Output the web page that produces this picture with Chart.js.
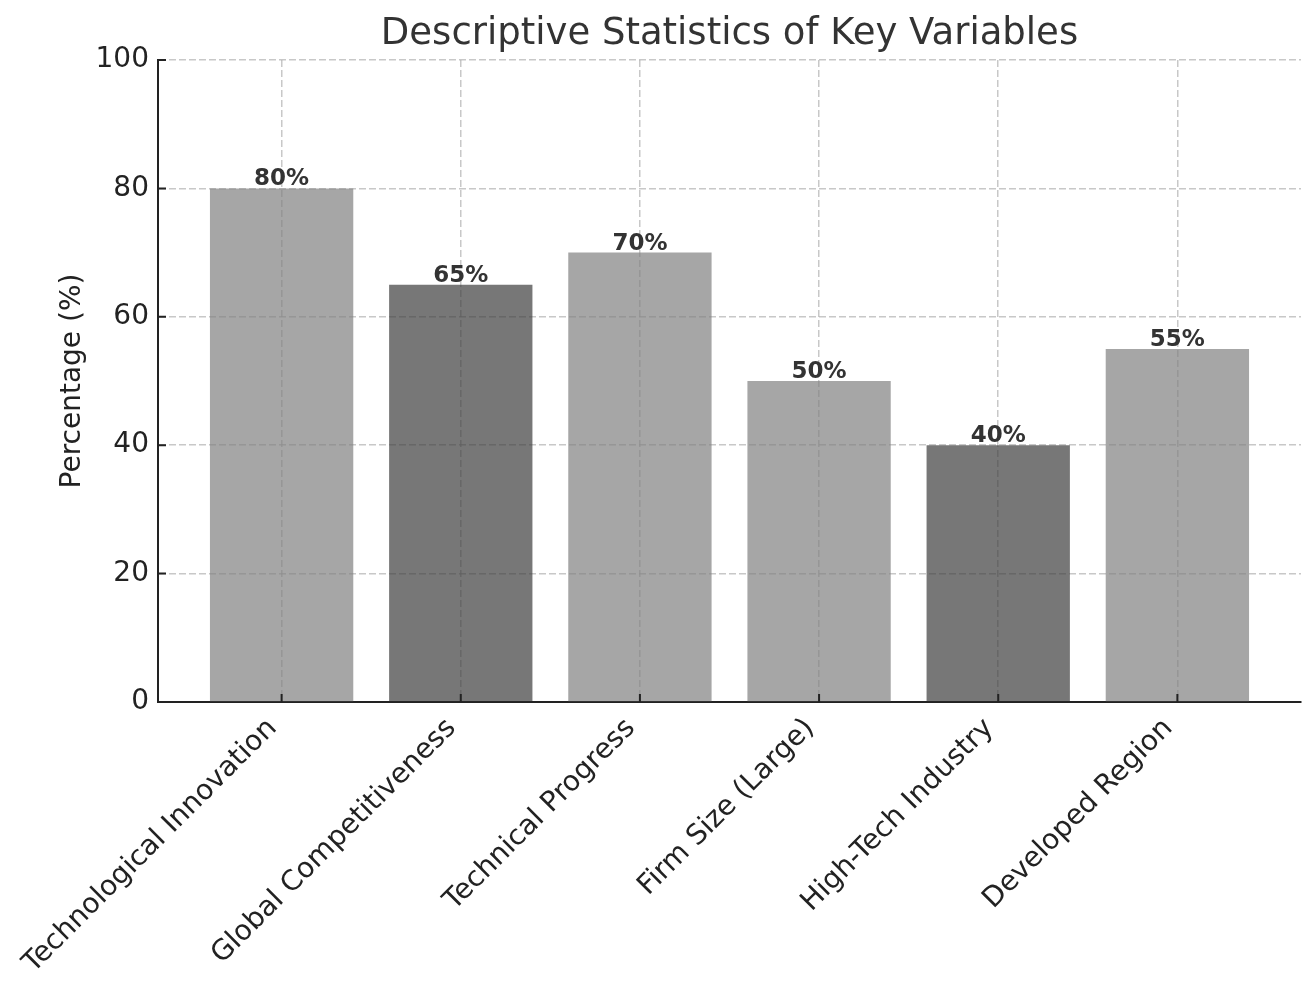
<!DOCTYPE html>
<html>
<head>
<meta charset="utf-8">
<script src="https://cdn.jsdelivr.net/npm/chart.js@4.4.1/dist/chart.umd.min.js"></script>
<style>
  html, body { margin: 0; padding: 0; background: #fff; }
  #wrap { width: 1316px; height: 991px; position: relative; }
</style>
</head>
<body>
<div id="wrap"><canvas id="chart"></canvas></div>
<script>
const categories = ["Technological Innovation", "Global Competitiveness", "Technical Progress", "Firm Size (Large)", "High-Tech Industry", "Developed Region"];
const percentages = [80, 65, 70, 50, 40, 55];
const yTicks = [0, 20, 40, 60, 80, 100];
const chartTitle = "Descriptive Statistics of Key Variables";
const yTitle = "Percentage (%)";

const LIGHT = "rgba(128,128,128,0.7)";
const DARK = "rgba(61,61,61,0.7)";
const barColors = [LIGHT, DARK, LIGHT, LIGHT, DARK, LIGHT];
const AXIS = "#222";
const GRID = "rgba(176,176,176,0.7)";

Chart.defaults.font.family = "'DejaVu Sans', sans-serif";

// title centred over the plot area, like matplotlib
const titlePlugin = {
  id: "plotTitle",
  afterDraw(chart) {
    const { ctx, chartArea } = chart;
    ctx.save();
    ctx.font = "37px 'DejaVu Sans'";
    ctx.fillStyle = "#333";
    ctx.textAlign = "center";
    ctx.textBaseline = "alphabetic";
    ctx.fillText(chartTitle, (chartArea.left + chartArea.right) / 2, 44);
    ctx.restore();
  }
};

// value labels above bars
const valueLabels = {
  id: "valueLabels",
  afterDatasetsDraw(chart) {
    const { ctx } = chart;
    const meta = chart.getDatasetMeta(0);
    ctx.save();
    ctx.font = "bold 23px 'DejaVu Sans'";
    ctx.fillStyle = "#333";
    ctx.textAlign = "center";
    ctx.textBaseline = "alphabetic";
    meta.data.forEach((bar, i) => {
      ctx.fillText(percentages[i] + "%", bar.x, bar.y - 3);
    });
    ctx.restore();
  }
};

// inward tick marks
const innerTicks = {
  id: "innerTicks",
  afterDraw(chart) {
    const { ctx, chartArea, scales } = chart;
    ctx.save();
    ctx.strokeStyle = AXIS;
    ctx.lineWidth = 2;
    ctx.beginPath();
    scales.x.ticks.forEach((t, i) => {
      const px = scales.x.getPixelForTick(i);
      ctx.moveTo(px, chartArea.bottom);
      ctx.lineTo(px, chartArea.bottom - 8);
    });
    scales.y.ticks.forEach((t, i) => {
      const py = scales.y.getPixelForTick(i);
      ctx.moveTo(chartArea.left, py);
      ctx.lineTo(chartArea.left + 8, py);
    });
    ctx.stroke();
    ctx.restore();
  }
};

new Chart(document.getElementById("chart"), {
  type: "bar",
  data: {
    datasets: [{
      data: percentages.map((v, i) => ({ x: i, y: v })),
      backgroundColor: barColors,
      borderWidth: 0,
      barPercentage: 0.8,
      categoryPercentage: 1
    }]
  },
  options: {
    responsive: true,
    maintainAspectRatio: false,
    animation: false,
    layout: { padding: { top: 60, right: 15, bottom: 0, left: 0 } },
    plugins: {
      legend: { display: false },
      tooltip: { enabled: false },
      title: { display: false }
    },
    scales: {
      x: {
        type: "linear",
        offset: false,
        min: -0.69,
        max: categories.length - 1 + 0.69,
        afterBuildTicks: s => { s.ticks = categories.map((c, i) => ({ value: i })); },
        afterFit: s => { s.height = 289; },
        ticks: {
          autoSkip: false,
          minRotation: 45,
          maxRotation: 45,
          padding: 10,
          labelOffset: -9,
          color: AXIS,
          font: { size: 28 },
          callback: v => categories[v]
        },
        grid: { offset: false, color: GRID, lineWidth: 1.5, drawTicks: false },
        border: { display: true, color: AXIS, width: 2, dash: [7, 3] }
      },
      y: {
        min: 0,
        max: 100,
        afterBuildTicks: s => { s.ticks = yTicks.map(v => ({ value: v })); },
        afterFit: s => { s.width = 158; },
        ticks: { padding: 9, color: AXIS, font: { size: 28 } },
        grid: { color: GRID, lineWidth: 1.5, drawTicks: false },
        border: { display: true, color: AXIS, width: 2, dash: [7, 3] },
        title: {
          display: true,
          text: yTitle,
          color: AXIS,
          font: { size: 28 },
          padding: { top: 56, bottom: 0 }
        }
      }
    }
  },
  plugins: [titlePlugin, valueLabels, innerTicks]
});
</script>
</body>
</html>
